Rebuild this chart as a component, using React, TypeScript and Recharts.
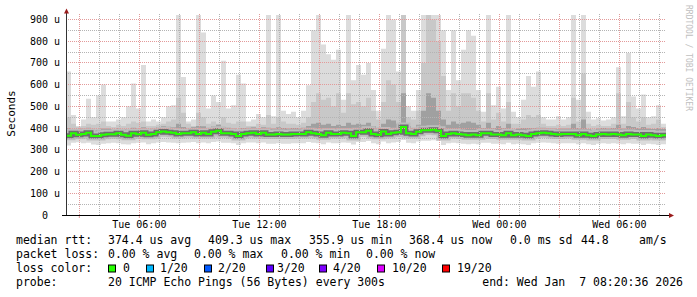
import React from 'react';
import { ComposedChart, Area, Line, XAxis, YAxis, ReferenceLine } from 'recharts';

// 15 minute slots, minutes since Tue 02:20 (graph start)
const slotMinutes = 15;

const median = [
  365, 376, 369, 373, 378, 363, 363, 369, 372, 372,
  376, 369, 365, 376, 372, 378, 369, 373, 381, 384,
  381, 378, 373, 376, 376, 381, 373, 378, 373, 383,
  388, 376, 376, 373, 364, 373, 376, 378, 373, 378,
  370, 370, 373, 370, 370, 373, 373, 373, 381, 376,
  373, 367, 378, 373, 373, 378, 376, 364, 381, 381,
  388, 373, 369, 384, 373, 378, 381, 405, 376, 373,
  383, 390, 390, 392, 388, 364, 373, 376, 373, 370,
  367, 370, 367, 376, 376, 370, 370, 367, 376, 367,
  370, 367, 364, 373, 376, 378, 376, 373, 370, 373,
  373, 373, 367, 373, 367, 364, 370, 373, 370, 373,
  370, 367, 373, 370, 370, 364, 370, 367, 364, 367,
];

const maxRtt = [
  660, 460, 410, 440, 535, 450, 550, 600, 430, 430,
  440, 450, 500, 605, 490, 690, 430, 440, 430, 450,
  500, 505, 920, 635, 430, 440, 920, 840, 490, 550,
  520, 710, 490, 505, 645, 605, 430, 440, 465, 450,
  920, 455, 920, 480, 465, 475, 450, 480, 597, 850,
  920, 785, 740, 715, 760, 530, 920, 620, 690, 645,
  700, 575, 480, 765, 920, 900, 660, 920, 500, 480,
  575, 920, 920, 920, 920, 850, 575, 850, 620, 760,
  850, 825, 575, 475, 920, 505, 590, 490, 920, 475,
  450, 530, 640, 590, 660, 450, 440, 440, 455, 440,
  450, 920, 530, 920, 475, 440, 445, 435, 440, 450,
  680, 455, 745, 545, 490, 555, 450, 455, 505, 420,
];

const midRtt = [
  450, 420, 405, 410, 420, 415, 420, 430, 410, 405,
  415, 410, 420, 430, 425, 430, 410, 410, 415, 420,
  430, 440, 540, 470, 420, 410, 470, 450, 420, 430,
  420, 450, 425, 420, 430, 430, 410, 410, 420, 415,
  460, 420, 450, 430, 420, 420, 415, 425, 450, 520,
  560, 530, 540, 500, 560, 470, 560, 510, 520, 500,
  540, 480, 440, 520, 620, 600, 520, 920, 450, 440,
  480, 700, 920, 900, 800, 640, 480, 560, 500, 560,
  560, 540, 480, 430, 560, 440, 470, 430, 520, 420,
  420, 440, 460, 450, 460, 420, 410, 410, 415, 410,
  415, 540, 430, 650, 420, 410, 415, 410, 410, 420,
  560, 420, 520, 450, 430, 450, 415, 420, 440, 405,
];

const darkRtt = [
  400, 395, 395, 398, 402, 390, 392, 398, 398, 396,
  400, 396, 394, 402, 398, 404, 396, 398, 405, 408,
  406, 404, 420, 405, 400, 405, 410, 408, 398, 408,
  415, 404, 402, 398, 392, 400, 402, 404, 398, 404,
  402, 398, 404, 400, 398, 400, 400, 402, 410, 420,
  425, 415, 420, 410, 415, 410, 425, 415, 420, 415,
  425, 410, 400, 420, 440, 435, 420, 560, 410, 400,
  415, 480, 560, 540, 480, 440, 415, 430, 420, 425,
  430, 425, 415, 400, 425, 400, 410, 400, 420, 395,
  398, 400, 400, 400, 402, 402, 400, 398, 396, 398,
  398, 420, 400, 440, 396, 392, 398, 400, 398, 400,
  415, 398, 410, 405, 400, 405, 398, 396, 400, 396,
];

const minRtt = [
  320, 332, 335, 330, 332, 325, 322, 328, 330, 332,
  330, 326, 324, 330, 332, 334, 326, 330, 334, 336,
  334, 332, 330, 332, 334, 336, 330, 334, 330, 336,
  338, 332, 332, 330, 322, 330, 334, 334, 330, 334,
  328, 328, 330, 328, 328, 330, 330, 330, 336, 332,
  330, 326, 334, 330, 330, 334, 332, 324, 336, 336,
  340, 330, 326, 338, 330, 334, 336, 345, 332, 330,
  338, 342, 342, 344, 340, 322, 330, 332, 330, 328,
  326, 328, 326, 332, 332, 328, 328, 326, 332, 326,
  328, 326, 322, 330, 332, 334, 332, 330, 328, 330,
  330, 330, 326, 330, 326, 322, 328, 330, 328, 330,
  328, 326, 330, 328, 328, 322, 328, 326, 322, 326,
];

const yTicks = [0, 100, 200, 300, 400, 500, 600, 700, 800, 900];
const xLabelTimes = [220, 580, 940, 1300, 1660];
const xLabels = ['Tue 06:00', 'Tue 12:00', 'Tue 18:00', 'Wed 00:00', 'Wed 06:00'];

const lossColors = ['#26ff00', '#00b8ff', '#0059ff', '#5e00ff', '#7e00ff', '#dd00ff', '#ff0000'];
const lossLabels = ['0', '1/20', '2/20', '3/20', '4/20', '10/20', '19/20'];

const rows = median.map((m, i) => ({
  t: i * slotMinutes,
  median: m,
  hi: maxRtt[i],
  mid: midRtt[i],
  dark: darkRtt[i],
  low: minRtt[i],
}));
// close the last step at the right edge
rows.push({ ...rows[rows.length - 1], t: rows.length * slotMinutes });

// hour lines: 03:00 Tue .. 08:00 Wed, start is 02:20
const hourLines: number[] = [];
for (let k = 3; k <= 32; k++) hourLines.push(k * 60 - 140);
const majorV = hourLines.filter((t) => ((t + 140) / 60) % 3 === 0);
const minorV = hourLines.filter((t) => ((t + 140) / 60) % 3 !== 0);
const majorH = yTicks.filter((v) => v > 0);
const minorH = yTicks.map((v) => v + 50).filter((v) => v < 900);

const MONO = '"DejaVu Sans Mono", monospace';
const MAJOR = '#e39a9a';
const MINOR = '#b4b4b4';

const YTick = ({ x, y, payload }: any) => (
  <text x={payload.value === 0 ? x - 12 : x} y={y} dy="0.355em" textAnchor="end" fontSize={10} fontFamily={MONO} fill="#000">
    {payload.value === 0 ? '0' : `${payload.value} u`}
  </text>
);

const XTick = ({ x, y, payload }: any) => {
  const idx = xLabelTimes.indexOf(payload.value);
  if (idx < 0) return null;
  return (
    <text x={x} y={y} dy="0.71em" textAnchor="middle" fontSize={10} fontFamily={MONO} fill="#000">
      {xLabels[idx]}
    </text>
  );
};

const Legend = () => {
  const line1 = [
    [16, 'median rtt:'], [108, '374.4 us avg'], [208, '409.3 us max'], [309, '355.9 us min'],
    [409, '368.4 us now'], [510, '0.0 ms sd'], [581, '44.8'], [639, 'am/s'],
  ] as const;
  const line2 = [
    [16, 'packet loss:'], [108, '0.00 % avg'], [194, '0.00 % max'], [281, '0.00 % min'], [366, '0.00 % now'],
  ] as const;
  const boxX = [108, 146, 204, 266, 319, 377, 442];
  const labelX = [123, 160, 218, 277, 333, 392, 457];
  return (
    <svg width={697} height={297} style={{ position: 'absolute', left: 0, top: 0, pointerEvents: 'none' }}>
      {/* axis lines and arrows */}
      <line x1={66.5} y1={215} x2={66.5} y2={12} stroke="#333" strokeWidth={1} />
      <line x1={62} y1={215.5} x2={670} y2={215.5} stroke="#000" strokeWidth={1} />
      <polygon points="64,13.5 69,13.5 66.5,8.5" fill="#9a1c1c" />
      <polygon points="669,213 669,218 674,215.5" fill="#9a1c1c" />
      <text transform="translate(15,113.5) rotate(-90)" textAnchor="middle" fontSize={11} fontFamily={MONO} fill="#000">Seconds</text>
      <text transform="translate(685.5,5) rotate(90)" fontSize={8} fontFamily={MONO} fill="#c0c0c0">RRDTOOL / TOBI OETIKER</text>
      <g fontSize={11.5} fontFamily={MONO} fill="#000">
        {line1.map(([x, s]) => <text key={s} x={x} y={244.3}>{s}</text>)}
        {line2.map(([x, s]) => <text key={s} x={x} y={258.3}>{s}</text>)}
        <text x={16} y={272.3}>loss color:</text>
        {lossColors.map((c, i) => (
          <g key={c}>
            <rect x={boxX[i] + 0.5} y={265} width={7} height={7} fill={c} stroke="#000" strokeWidth={1} />
            <text x={labelX[i]} y={272.3}>{lossLabels[i]}</text>
          </g>
        ))}
        <text x={16} y={286.3}>probe:</text>
        <text x={108} y={286.3}>20 ICMP Echo Pings (56 Bytes) every 300s</text>
        <text x={683} y={286.3} textAnchor="end" style={{ whiteSpace: 'pre' }}>end: Wed Jan  7 08:20:36 2026</text>
      </g>
    </svg>
  );
};

export default function App() {
  return (
    <div style={{ position: 'absolute', left: 0, top: 0, width: 697, height: 297, background: '#fff' }}>
      <ComposedChart width={697} height={297} data={rows} margin={{ top: 14, right: 31, bottom: 62, left: 8 }}>
        <XAxis
          type="number"
          dataKey="t"
          domain={[0, 1800]}
          allowDataOverflow
          ticks={majorV}
          interval={0}
          axisLine={false}
          tickLine={{ stroke: MAJOR }}
          tickSize={3}
          tickMargin={3}
          height={20}
          tick={<XTick />}
        />
        <YAxis
          domain={[0, 925]}
          allowDataOverflow
          ticks={yTicks}
          interval={0}
          axisLine={false}
          tickLine={false}
          tickSize={4}
          tickMargin={2}
          width={58}
          tick={<YTick />}
        />
        <Area type="stepAfter" dataKey={(d: any) => [d.low, d.hi]} fill="#dcdcdc" fillOpacity={1} stroke="none" isAnimationActive={false} />
        <Area type="stepAfter" dataKey={(d: any) => [d.median, d.mid]} fill="#c8c8c8" fillOpacity={1} stroke="none" isAnimationActive={false} />
        <Line type="stepAfter" dataKey="median" stroke="#bdbdbd" strokeWidth={9} dot={false} activeDot={false} isAnimationActive={false} />
        <Area type="stepAfter" dataKey={(d: any) => [d.median, d.dark]} fill="#a0a0a0" fillOpacity={1} stroke="none" isAnimationActive={false} />
        <Line type="stepAfter" dataKey="median" stroke="#6e6e6e" strokeWidth={5} dot={false} activeDot={false} isAnimationActive={false} />
        {minorH.map((v) => <ReferenceLine key={'mh' + v} y={v} stroke={MINOR} strokeDasharray="1 1" shapeRendering="crispEdges" />)}
        {minorV.map((v) => <ReferenceLine key={'mv' + v} x={v} stroke={MINOR} strokeDasharray="1 1" shapeRendering="crispEdges" />)}
        {majorH.map((v) => <ReferenceLine key={'Mh' + v} y={v} stroke={MAJOR} strokeDasharray="1 1" shapeRendering="crispEdges" />)}
        {majorV.map((v) => <ReferenceLine key={'Mv' + v} x={v} stroke={MAJOR} strokeDasharray="1 1" shapeRendering="crispEdges" />)}
        <Line type="stepAfter" dataKey="median" stroke={lossColors[0]} strokeWidth={2} dot={false} activeDot={false} isAnimationActive={false} />
      </ComposedChart>
      <Legend />
    </div>
  );
}
